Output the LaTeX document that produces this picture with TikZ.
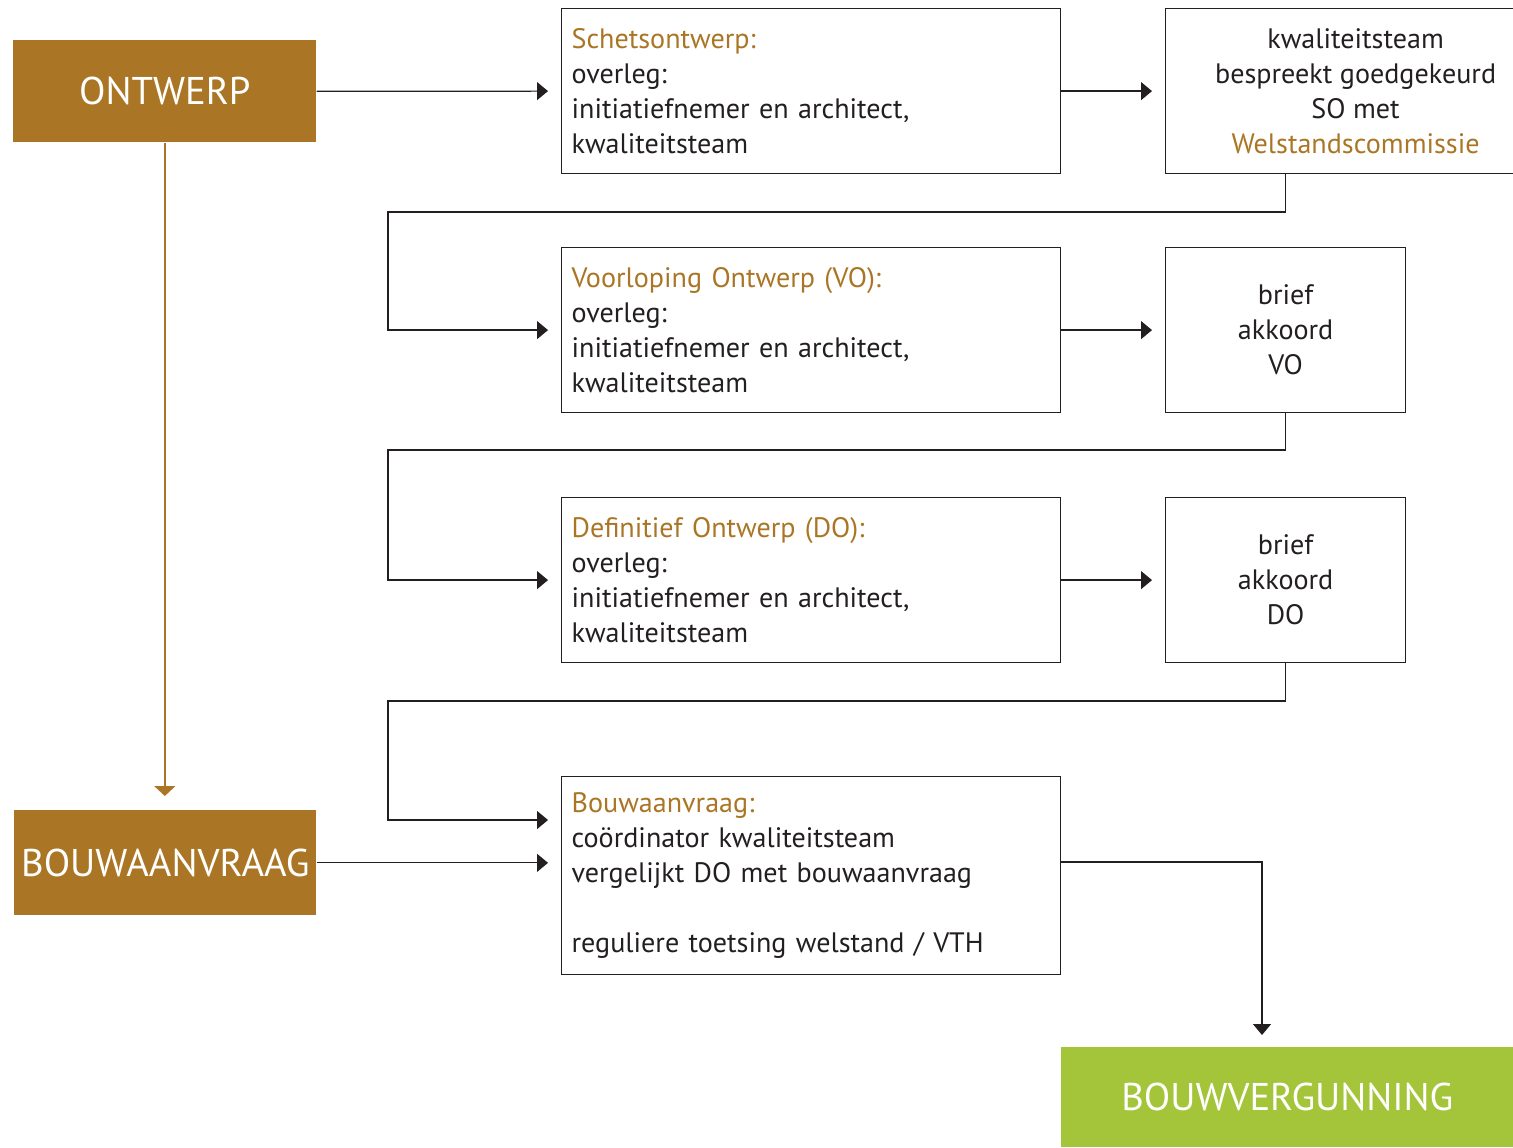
\documentclass[tikz,border=0pt]{standalone}
\usepackage{fontspec}
\setmainfont{PT Sans}
\usetikzlibrary{arrows.meta}
\definecolor{ontwerpbrown}{RGB}{170,118,37}
\definecolor{vergunninggreen}{RGB}{164,196,58}
\definecolor{inkblack}{RGB}{35,31,32}
\tikzset{
  stapbox/.style={draw=inkblack,line width=0.7pt,anchor=north west,inner xsep=0.2cm,
    text=inkblack,font=\fontsize{16}{19.9}\selectfont},
  linksbox/.style={stapbox,minimum width=9.98cm,text width=9.58cm,align=left},
  midbox/.style={stapbox,align=center},
  fasebox/.style={anchor=north west,text=white,font=\fontsize{22}{26}\selectfont},
  conn/.style={draw=inkblack,line width=0.7pt,-{Triangle[length=0.22cm,width=0.36cm]},
    shorten >=0.26cm}
}
\newcommand{\kop}[1]{\textcolor{ontwerpbrown}{#1}}
\begin{document}
\begin{tikzpicture}[x=0.02cm,y=0.02cm]
  \path[use as bounding box] (0,0) rectangle (1513,-1147);
  % fase blokken
  \node[fasebox,fill=ontwerpbrown,minimum width=6.06cm,minimum height=2.04cm] (ontwerp) at (13,-40) {ONTWERP};
  \node[fasebox,fill=ontwerpbrown,minimum width=6.04cm,minimum height=2.1cm] (aanvraag) at (14,-810) {BOUWAANVRAAG};
  \node[fasebox,fill=vergunninggreen,minimum width=9.04cm,minimum height=2.0cm] (vergunning) at (1061,-1047) {BOUWVERGUNNING};
  % overleg per stap
  \node[linksbox,minimum height=3.3cm] (so) at (561,-8)
    {\kop{Schetsontwerp:}\\overleg:\\initiatiefnemer en architect,\\kwaliteitsteam};
  \node[midbox,minimum width=7.6cm,minimum height=3.3cm] (kwal) at (1165,-8)
    {kwaliteitsteam\\bespreekt goedgekeurd\\SO met\\\kop{Welstandscommissie}};
  \node[linksbox,minimum height=3.3cm] (vo) at (561,-247)
    {\kop{Voorloping Ontwerp (VO):}\\overleg:\\initiatiefnemer en architect,\\kwaliteitsteam};
  \node[midbox,minimum width=4.8cm,minimum height=3.3cm] (briefvo) at (1165,-247)
    {brief\\akkoord\\VO};
  \node[linksbox,minimum height=3.3cm] (do) at (561,-497)
    {\kop{Definitief Ontwerp (DO):}\\overleg:\\initiatiefnemer en architect,\\kwaliteitsteam};
  \node[midbox,minimum width=4.8cm,minimum height=3.3cm] (briefdo) at (1165,-497)
    {brief\\akkoord\\DO};
  \node[linksbox,minimum height=3.96cm] (bouw) at (561,-776)
    {\kop{Bouwaanvraag:}\\co\"ordinator kwaliteitsteam\\vergelijkt DO met bouwaanvraag\\[\baselineskip]reguliere toetsing welstand / VTH};
  % hulppunten
  \coordinate (terug1) at (388,-212);
  \coordinate (terug2) at (388,-450);
  \coordinate (terug3) at (388,-701);
  \coordinate (inbouw) at (561,-820);
  \coordinate (afslag) at (1262,-862);
  % verbindingen
  \draw[conn] (ontwerp.east) -- (so.west);
  \draw[conn] (so.east) -- (kwal.west);
  \draw[conn] (kwal.south -| briefvo) |- (terug1) |- (vo.west);
  \draw[conn] (vo.east) -- (briefvo.west);
  \draw[conn] (briefvo.south) |- (terug2) |- (do.west);
  \draw[conn] (do.east) -- (briefdo.west);
  \draw[conn] (briefdo.south) |- (terug3) |- (inbouw);
  \draw[conn] (aanvraag.east) -- (aanvraag.east -| bouw.west);
  \draw[conn,shorten >=0.24cm] (bouw.east |- afslag) -| (afslag |- vergunning.north);
  \draw[draw=ontwerpbrown,line width=0.9pt,-{Triangle[length=0.2cm,width=0.42cm]},shorten >=0.28cm]
    (ontwerp.south) -- (aanvraag.north -| ontwerp.south);
\end{tikzpicture}
\end{document}
